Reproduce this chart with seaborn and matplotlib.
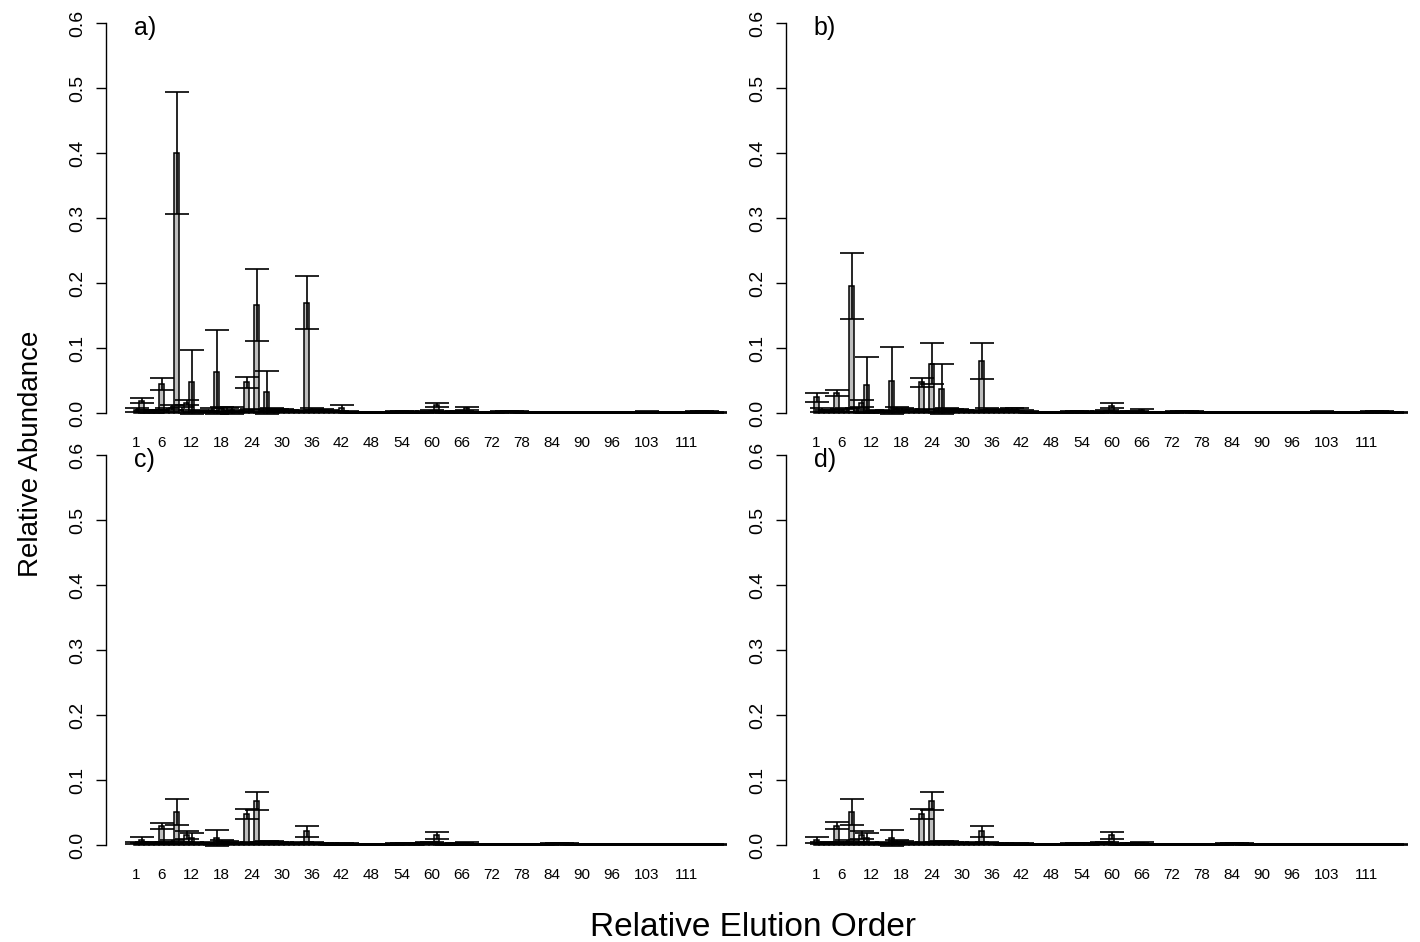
import numpy as np
import matplotlib
matplotlib.use("Agg")
import matplotlib.pyplot as plt
import seaborn as sns

# ==========================================
# DATA (117 compounds per panel)
# ==========================================
order = [str(i) for i in range(1, 118)]
tick_labels = ["1", "6", "12", "18", "24", "30", "36", "42", "48", "54", "60",
               "66", "72", "78", "84", "90", "96", "103", "111"]

mean_a = [0.004, 0.019, 0.003, 0.002, 0.003, 0.045, 0.004, 0.008, 0.400, 0.005,
          0.016, 0.048, 0.003, 0.002, 0.002, 0.004, 0.063, 0.006, 0.005, 0.004,
          0.002, 0.003, 0.047, 0.004, 0.166, 0.003, 0.032, 0.005, 0.004, 0.004,
          0.003, 0.002, 0.002, 0.003, 0.170, 0.004, 0.003, 0.004, 0.003, 0.002,
          0.002, 0.007, 0.002, 0.001, 0.001, 0.001, 0.001, 0.001, 0.001, 0.001,
          0.001, 0.001, 0.002, 0.002, 0.002, 0.001, 0.001, 0.001, 0.002, 0.003,
          0.013, 0.002, 0.001, 0.001, 0.002, 0.002, 0.007, 0.001, 0.001, 0.001,
          0.001, 0.001, 0.001, 0.002, 0.002, 0.002, 0.002, 0.001, 0.001, 0.001,
          0.001, 0.001, 0.001, 0.001, 0.001, 0.001, 0.001, 0.001, 0.001, 0.001,
          0.001, 0.001, 0.001, 0.001, 0.001, 0.001, 0.001, 0.001, 0.001, 0.001,
          0.001, 0.001, 0.002, 0.001, 0.001, 0.001, 0.001, 0.001, 0.001, 0.001,
          0.001, 0.001, 0.002, 0.002, 0.002, 0.001, 0.001]
sd_a = [0.003, 0.0035, 0.002, 0.002, 0.002, 0.009, 0.003, 0.004, 0.094, 0.004,
        0.004, 0.049, 0.002, 0.001, 0.001, 0.003, 0.064, 0.003, 0.003, 0.005,
        0.001, 0.002, 0.008, 0.002, 0.055, 0.002, 0.033, 0.002, 0.002, 0.002,
        0.002, 0.001, 0.001, 0.002, 0.041, 0.003, 0.002, 0.002, 0.002, 0.001,
        0.001, 0.005, 0.001, 0.001, 0.001, 0.001, 0.001, 0.001, 0.001, 0.001,
        0.001, 0.001, 0.001, 0.001, 0.001, 0.001, 0.001, 0.001, 0.001, 0.002,
        0.003, 0.001, 0.001, 0.001, 0.001, 0.001, 0.003, 0.001, 0.001, 0.001,
        0.001, 0.001, 0.001, 0.001, 0.001, 0.001, 0.001, 0.001, 0.001, 0.001,
        0.001, 0.001, 0.001, 0.001, 0.001, 0.001, 0.001, 0.001, 0.001, 0.001,
        0.001, 0.001, 0.001, 0.001, 0.001, 0.001, 0.001, 0.001, 0.001, 0.001,
        0.001, 0.001, 0.001, 0.001, 0.001, 0.001, 0.001, 0.001, 0.001, 0.001,
        0.001, 0.001, 0.001, 0.001, 0.001, 0.001, 0.001]

mean_b = [0.024, 0.004, 0.003, 0.003, 0.031, 0.004, 0.005, 0.195, 0.005, 0.015,
          0.043, 0.003, 0.002, 0.002, 0.003, 0.050, 0.006, 0.005, 0.004, 0.002,
          0.003, 0.047, 0.004, 0.076, 0.003, 0.037, 0.005, 0.004, 0.004, 0.003,
          0.002, 0.002, 0.003, 0.080, 0.004, 0.003, 0.004, 0.003, 0.003, 0.004,
          0.004, 0.003, 0.002, 0.001, 0.001, 0.001, 0.001, 0.001, 0.001, 0.001,
          0.001, 0.002, 0.002, 0.002, 0.001, 0.001, 0.001, 0.002, 0.003, 0.011,
          0.002, 0.001, 0.001, 0.002, 0.002, 0.004, 0.001, 0.001, 0.001, 0.001,
          0.001, 0.001, 0.002, 0.002, 0.002, 0.002, 0.001, 0.001, 0.001, 0.001,
          0.001, 0.001, 0.001, 0.001, 0.001, 0.001, 0.001, 0.001, 0.001, 0.001,
          0.001, 0.001, 0.001, 0.001, 0.001, 0.001, 0.001, 0.001, 0.001, 0.001,
          0.001, 0.002, 0.001, 0.001, 0.001, 0.001, 0.001, 0.001, 0.001, 0.001,
          0.001, 0.002, 0.002, 0.002, 0.001, 0.001, 0.001]
sd_b = [0.0075, 0.003, 0.002, 0.002, 0.005, 0.002, 0.003, 0.051, 0.003, 0.005,
        0.043, 0.002, 0.001, 0.001, 0.002, 0.051, 0.003, 0.003, 0.002, 0.001,
        0.002, 0.007, 0.002, 0.031, 0.002, 0.039, 0.002, 0.002, 0.002, 0.002,
        0.001, 0.001, 0.002, 0.028, 0.003, 0.002, 0.002, 0.002, 0.002, 0.003,
        0.003, 0.002, 0.001, 0.001, 0.001, 0.001, 0.001, 0.001, 0.001, 0.001,
        0.001, 0.001, 0.001, 0.001, 0.001, 0.001, 0.001, 0.001, 0.002, 0.004,
        0.001, 0.001, 0.001, 0.001, 0.001, 0.002, 0.001, 0.001, 0.001, 0.001,
        0.001, 0.001, 0.001, 0.001, 0.001, 0.001, 0.001, 0.001, 0.001, 0.001,
        0.001, 0.001, 0.001, 0.001, 0.001, 0.001, 0.001, 0.001, 0.001, 0.001,
        0.001, 0.001, 0.001, 0.001, 0.001, 0.001, 0.001, 0.001, 0.001, 0.001,
        0.001, 0.001, 0.001, 0.001, 0.001, 0.001, 0.001, 0.001, 0.001, 0.001,
        0.001, 0.001, 0.001, 0.001, 0.001, 0.001, 0.001]

mean_c = [0.003, 0.008, 0.003, 0.002, 0.003, 0.029, 0.003, 0.004, 0.051, 0.003,
          0.015, 0.011, 0.002, 0.002, 0.002, 0.003, 0.011, 0.004, 0.004, 0.003,
          0.002, 0.002, 0.048, 0.003, 0.068, 0.003, 0.004, 0.004, 0.003, 0.003,
          0.002, 0.002, 0.002, 0.003, 0.021, 0.003, 0.002, 0.002, 0.002, 0.001,
          0.001, 0.002, 0.002, 0.001, 0.001, 0.001, 0.001, 0.001, 0.001, 0.001,
          0.001, 0.001, 0.002, 0.002, 0.002, 0.001, 0.002, 0.002, 0.003, 0.003,
          0.015, 0.002, 0.001, 0.001, 0.002, 0.002, 0.003, 0.001, 0.001, 0.001,
          0.001, 0.001, 0.001, 0.001, 0.001, 0.001, 0.001, 0.001, 0.001, 0.001,
          0.001, 0.001, 0.001, 0.002, 0.002, 0.002, 0.002, 0.001, 0.001, 0.001,
          0.001, 0.001, 0.001, 0.001, 0.001, 0.001, 0.001, 0.001, 0.001, 0.001,
          0.001, 0.001, 0.001, 0.001, 0.001, 0.001, 0.001, 0.001, 0.001, 0.001,
          0.001, 0.001, 0.001, 0.001, 0.001, 0.001, 0.001]
sd_c = [0.002, 0.005, 0.002, 0.001, 0.002, 0.005, 0.002, 0.003, 0.020, 0.002,
        0.006, 0.007, 0.001, 0.001, 0.001, 0.002, 0.012, 0.003, 0.002, 0.002,
        0.001, 0.001, 0.008, 0.002, 0.014, 0.002, 0.002, 0.002, 0.002, 0.002,
        0.001, 0.001, 0.001, 0.002, 0.009, 0.002, 0.001, 0.001, 0.001, 0.001,
        0.001, 0.001, 0.001, 0.001, 0.001, 0.001, 0.001, 0.001, 0.001, 0.001,
        0.001, 0.001, 0.001, 0.001, 0.001, 0.001, 0.001, 0.001, 0.001, 0.001,
        0.005, 0.001, 0.001, 0.001, 0.001, 0.001, 0.002, 0.001, 0.001, 0.001,
        0.001, 0.001, 0.001, 0.001, 0.001, 0.001, 0.001, 0.001, 0.001, 0.001,
        0.001, 0.001, 0.001, 0.001, 0.001, 0.001, 0.001, 0.001, 0.001, 0.001,
        0.001, 0.001, 0.001, 0.001, 0.001, 0.001, 0.001, 0.001, 0.001, 0.001,
        0.001, 0.001, 0.001, 0.001, 0.001, 0.001, 0.001, 0.001, 0.001, 0.001,
        0.001, 0.001, 0.001, 0.001, 0.001, 0.001, 0.001]

mean_d = [0.008, 0.003, 0.002, 0.003, 0.030, 0.003, 0.004, 0.051, 0.003, 0.015,
          0.011, 0.002, 0.002, 0.002, 0.003, 0.011, 0.004, 0.004, 0.003, 0.002,
          0.002, 0.048, 0.003, 0.068, 0.003, 0.004, 0.004, 0.003, 0.003, 0.002,
          0.002, 0.002, 0.003, 0.021, 0.003, 0.002, 0.002, 0.002, 0.001, 0.001,
          0.002, 0.002, 0.001, 0.001, 0.001, 0.001, 0.001, 0.001, 0.001, 0.001,
          0.001, 0.002, 0.002, 0.002, 0.001, 0.002, 0.002, 0.003, 0.003, 0.015,
          0.002, 0.001, 0.001, 0.002, 0.002, 0.003, 0.001, 0.001, 0.001, 0.001,
          0.001, 0.001, 0.001, 0.001, 0.001, 0.001, 0.001, 0.001, 0.001, 0.001,
          0.001, 0.001, 0.002, 0.002, 0.002, 0.002, 0.001, 0.001, 0.001, 0.001,
          0.001, 0.001, 0.001, 0.001, 0.001, 0.001, 0.001, 0.001, 0.001, 0.001,
          0.001, 0.001, 0.001, 0.001, 0.001, 0.001, 0.001, 0.001, 0.001, 0.001,
          0.001, 0.001, 0.001, 0.001, 0.001, 0.001, 0.001]
sd_d = [0.005, 0.002, 0.001, 0.002, 0.005, 0.002, 0.003, 0.020, 0.002, 0.006,
        0.007, 0.001, 0.001, 0.001, 0.002, 0.012, 0.003, 0.002, 0.002, 0.001,
        0.001, 0.008, 0.002, 0.014, 0.002, 0.002, 0.002, 0.002, 0.002, 0.001,
        0.001, 0.001, 0.002, 0.009, 0.002, 0.001, 0.001, 0.001, 0.001, 0.001,
        0.001, 0.001, 0.001, 0.001, 0.001, 0.001, 0.001, 0.001, 0.001, 0.001,
        0.001, 0.001, 0.001, 0.001, 0.001, 0.001, 0.001, 0.001, 0.001, 0.005,
        0.001, 0.001, 0.001, 0.001, 0.001, 0.002, 0.001, 0.001, 0.001, 0.001,
        0.001, 0.001, 0.001, 0.001, 0.001, 0.001, 0.001, 0.001, 0.001, 0.001,
        0.001, 0.001, 0.001, 0.001, 0.001, 0.001, 0.001, 0.001, 0.001, 0.001,
        0.001, 0.001, 0.001, 0.001, 0.001, 0.001, 0.001, 0.001, 0.001, 0.001,
        0.001, 0.001, 0.001, 0.001, 0.001, 0.001, 0.001, 0.001, 0.001, 0.001,
        0.001, 0.001, 0.001, 0.001, 0.001, 0.001, 0.001]

panels = [("a)", mean_a, sd_a), ("b)", mean_b, sd_b),
          ("c)", mean_c, sd_c), ("d)", mean_d, sd_d)]

# ==========================================
# STYLE
# ==========================================
sns.set_style("white")
plt.rcParams['font.family'] = ['Liberation Sans', 'DejaVu Sans']
plt.rcParams['text.color'] = 'black'
plt.rcParams['xtick.color'] = 'black'
plt.rcParams['ytick.color'] = 'black'
plt.rcParams['axes.labelcolor'] = 'black'

W, H = 1420, 942
fig = plt.figure(figsize=(W / 100, H / 100), dpi=100)

# axes placement in pixels: (left spine x, y of 0.0)
px_per_bar = 5.0
px_per_unit = 650.0
x_left = -6.1
x_right = 118.0
y_lo, y_hi = -0.024, 0.624
layout = [(106, 413), (786, 413), (106, 845), (786, 845)]

for (letter, means, sds), (lx, y0) in zip(panels, layout):
    ax_w = (x_right - x_left) * px_per_bar
    ax_bottom = y0 - y_lo * px_per_unit
    ax_h = (y_hi - y_lo) * px_per_unit
    ax = fig.add_axes([lx / W, 1 - ax_bottom / H, ax_w / W, ax_h / H])

    sns.barplot(x=order, y=means, order=order, color="#bebebe",
                edgecolor="black", linewidth=1.1, width=0.85,
                saturation=1, ax=ax)
    ax.errorbar(np.arange(len(order)), means, yerr=sds, fmt="none",
                ecolor="black", elinewidth=1.2, capsize=8.9, capthick=1.2)

    ax.set_xlim(x_left, x_right)
    ax.set_ylim(y_lo, y_hi)
    ax.set_xticks([order.index(t) for t in tick_labels])
    ax.set_xticklabels(tick_labels, fontsize=11)
    ax.tick_params(axis="x", length=0, pad=5)
    ax.set_yticks([0.0, 0.1, 0.2, 0.3, 0.4, 0.5, 0.6])
    ax.set_yticklabels(["0.0", "0.1", "0.2", "0.3", "0.4", "0.5", "0.6"],
                       rotation=90, va="center", fontsize=14)
    ax.tick_params(axis="y", left=True, length=7, width=1, pad=7)
    ax.set_xlabel("")
    ax.set_ylabel("")

    for side in ["top", "right", "bottom"]:
        ax.spines[side].set_visible(False)
    ax.spines["left"].set_bounds(0, 0.6)
    ax.spines["left"].set_linewidth(1)
    ax.spines["left"].set_color("black")
    ax.patch.set_alpha(0)

    ax.text(0.045, 0.951, letter, transform=ax.transAxes,
            fontsize=18, va="center", ha="left")

fig.text(0.022, 0.518, "Relative Abundance", rotation=90,
         ha="center", va="center", fontsize=20)
fig.text(0.530, 0.006, "Relative Elution Order",
         ha="center", va="baseline", fontsize=24)

fig.savefig("out.png", dpi=100)
